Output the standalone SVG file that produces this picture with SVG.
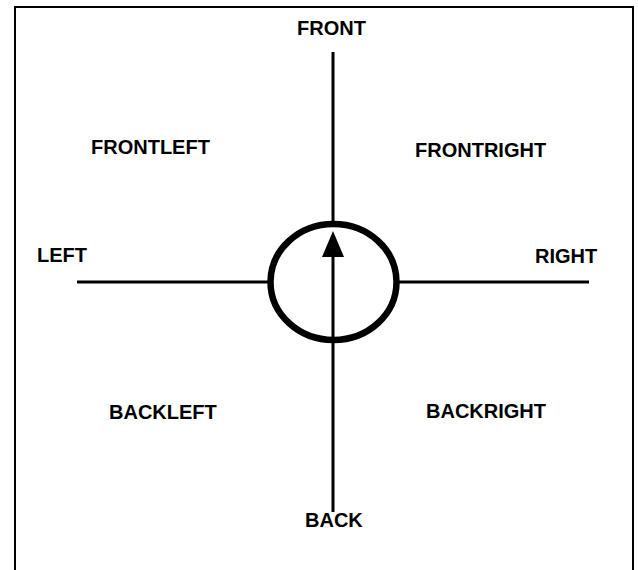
<svg xmlns="http://www.w3.org/2000/svg" width="638" height="570" viewBox="0 0 638 570">
<style>
.t{font-family:"Liberation Sans",Arial,sans-serif;font-weight:bold;font-size:20px;fill:#000}
.ln{stroke:#000;stroke-width:3;fill:none}
</style>
<rect x="0" y="0" width="638" height="570" fill="#fff"/>
<rect id="frame" x="15" y="7" width="618" height="580" fill="none" stroke="#000" stroke-width="2"/>
<g id="connectors">
<line class="ln" x1="333" y1="52" x2="333" y2="222"/>
<line class="ln" x1="77" y1="282" x2="268" y2="282"/>
<line class="ln" x1="399" y1="282" x2="589" y2="282"/>
<line class="ln" x1="333" y1="512" x2="333" y2="256"/>
<polygon points="333,231 322,257 344,257" fill="#000"/>
</g>
<g id="center"><ellipse cx="333.5" cy="282" rx="63" ry="58" fill="none" stroke="#000" stroke-width="6.5"/></g>
<g id="front"><text class="t" x="297" y="35">FRONT</text></g>
<g id="frontleft"><text class="t" x="91" y="154">FRONTLEFT</text></g>
<g id="frontright"><text class="t" x="415" y="157">FRONTRIGHT</text></g>
<g id="left"><text class="t" x="37" y="262">LEFT</text></g>
<g id="right"><text class="t" x="535" y="263">RIGHT</text></g>
<g id="backleft"><text class="t" x="109" y="419">BACKLEFT</text></g>
<g id="backright"><text class="t" x="426" y="418">BACKRIGHT</text></g>
<g id="back"><text class="t" x="305" y="527">BACK</text></g>
</svg>
